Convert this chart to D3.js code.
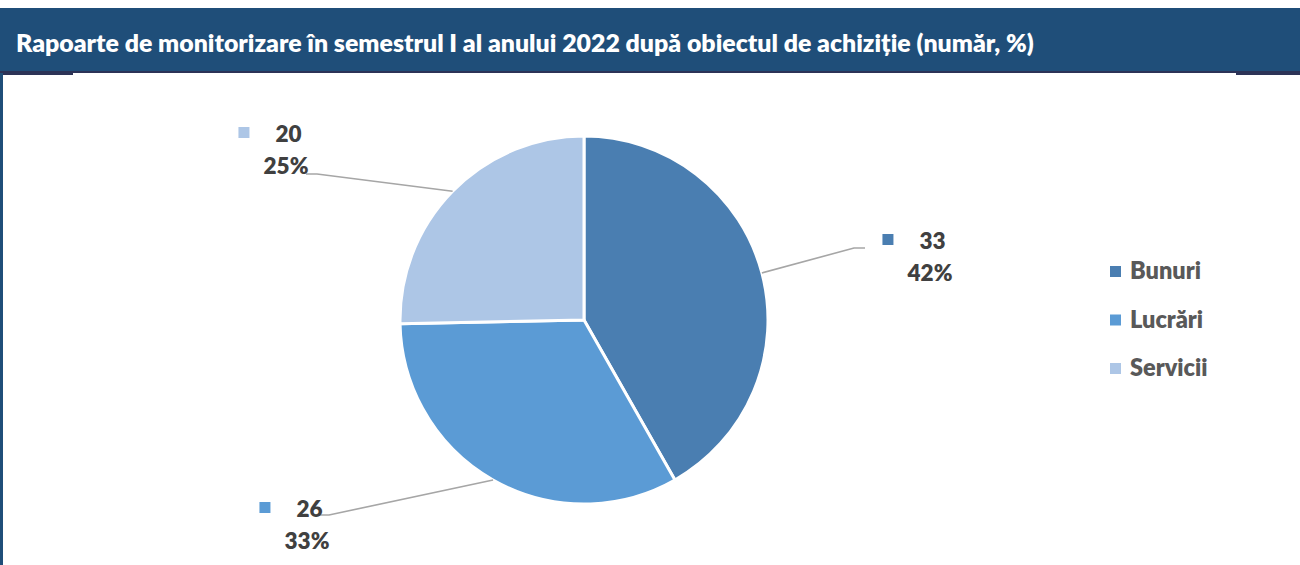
<!DOCTYPE html>
<html>
<head>
<meta charset="utf-8">
<script src="https://cdn.jsdelivr.net/npm/d3@7"></script>
<style>
  html, body { margin: 0; padding: 0; background: #fff; }
  svg { display: block; font-family: Lato, "Open Sans", sans-serif; }
</style>
</head>
<body>
<svg id="chart" width="1300" height="565"></svg>
<script>
const title = "Rapoarte de monitorizare în semestrul I al anului 2022 după obiectul de achiziție (număr, %)";
const categories = ["Bunuri", "Lucrări", "Servicii"];
const values = [33, 26, 20];
const percentLabels = ["42%", "33%", "25%"];
const colors = ["#4A7EB1", "#5B9BD5", "#ADC6E6"];

// layout (label block anchors: centre x, first baseline; leader end points)
const labelLayout = [
  { cx: 914, y: 249, lx: 865, ly: 248 },
  { cx: 291, y: 517, lx: 318, ly: 515 },
  { cx: 270, y: 142, lx: 306, ly: 174 }
];

const svg = d3.select("#chart");
const W = 1300, H = 565;
const BOLD = 800;

// header
svg.append("rect").attr("x", 0).attr("y", 8).attr("width", W).attr("height", 64).attr("fill", "#1F4E79");
svg.append("rect").attr("x", 0).attr("y", 71).attr("width", W).attr("height", 2).attr("fill", "#2C3357");
svg.append("rect").attr("x", 0).attr("y", 72).attr("width", 73).attr("height", 3).attr("fill", "#2C3357");
svg.append("rect").attr("x", 1236).attr("y", 72).attr("width", 64).attr("height", 3).attr("fill", "#2C3357");
svg.append("rect").attr("x", 0).attr("y", 73).attr("width", 3).attr("height", H - 73).attr("fill", "#1F4E79");

const t = svg.append("text").attr("x", 16).attr("y", 52)
  .attr("fill", "#fff").attr("font-weight", BOLD).attr("font-size", 21)
  .text(title);
const tw = t.node().getComputedTextLength();
if (tw > 0) t.attr("font-size", 21 * 1018 / tw);

// pie
const cx = 584, cy = 320, R = 184;
const pie = d3.pie().sort(null).value(d => d)(values);
const arc = d3.arc().innerRadius(0).outerRadius(R);
const g = svg.append("g").attr("transform", `translate(${cx},${cy})`);
g.selectAll("path").data(pie).join("path")
  .attr("d", arc).attr("fill", (d, i) => colors[i])
  .attr("stroke", "#fff").attr("stroke-width", 3).attr("stroke-linejoin", "round");

// leader lines
pie.forEach((d, i) => {
  const a = (d.startAngle + d.endAngle) / 2;
  const px = cx + R * Math.sin(a), py = cy - R * Math.cos(a);
  const L = labelLayout[i];
  const hx = L.lx < px ? L.lx + 11 : L.lx - 11;
  svg.append("path")
    .attr("d", `M${px},${py}L${hx},${L.ly}L${L.lx},${L.ly}`)
    .attr("fill", "none").attr("stroke", "#A6A6A6").attr("stroke-width", 1.6);
});

// data labels
pie.forEach((d, i) => {
  const L = labelLayout[i];
  const lg = svg.append("g");
  const num = lg.append("text").attr("y", L.y).attr("font-size", 22.5).attr("font-weight", BOLD)
    .attr("fill", "#404040").text(values[i]);
  const nw = num.node().getComputedTextLength();
  const gap = 26, sq = 11;
  const total = sq + gap + nw;
  const x0 = L.cx - total / 2;
  lg.append("rect").attr("x", x0).attr("y", L.y - 15).attr("width", sq).attr("height", sq).attr("fill", colors[i]);
  num.attr("x", x0 + sq + gap);
  lg.append("text").attr("x", L.cx + 16).attr("y", L.y + 32).attr("text-anchor", "middle")
    .attr("font-size", 22.5).attr("font-weight", BOLD).attr("fill", "#404040").text(percentLabels[i]);
});

// legend
const ly = d3.scalePoint().domain(categories).range([279, 376]);
const leg = svg.append("g");
categories.forEach((c, i) => {
  leg.append("rect").attr("x", 1110).attr("y", ly(c) - 13).attr("width", 11).attr("height", 11).attr("fill", colors[i]);
  leg.append("text").attr("x", 1130).attr("y", ly(c)).attr("font-size", 23.5).attr("font-weight", BOLD)
    .attr("fill", "#595959").text(c);
});
</script>
</body>
</html>
